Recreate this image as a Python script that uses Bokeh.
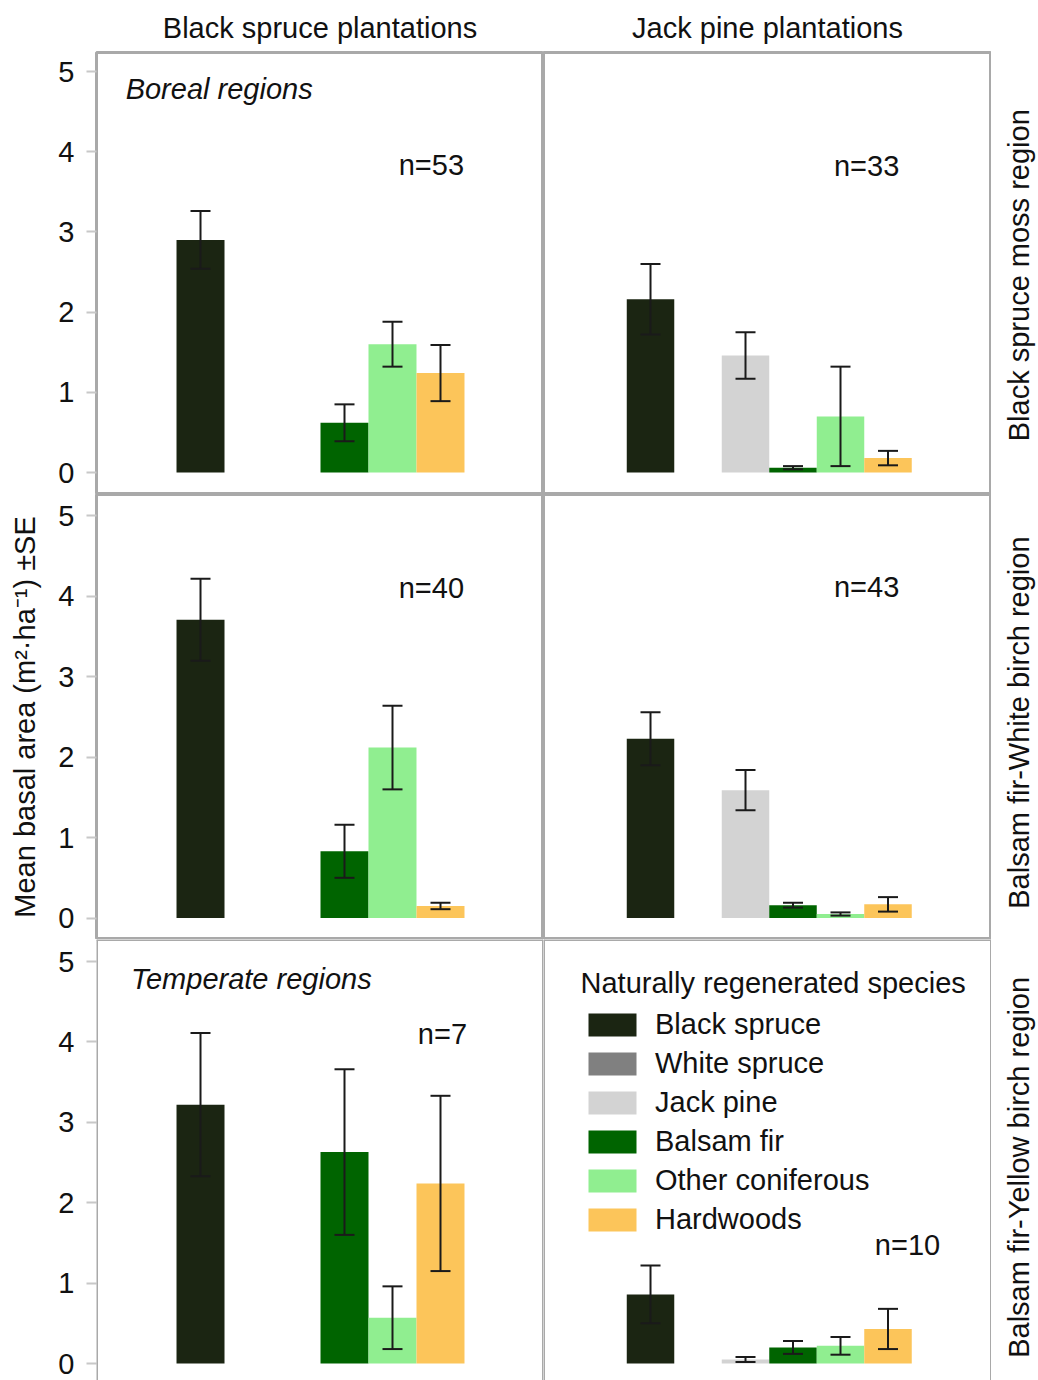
from bokeh.plotting import figure
from bokeh.models import (ColumnDataSource, Whisker, TeeHead, Label, Legend,
                          LegendItem, Span, Range1d, FixedTicker)
from bokeh.layouts import gridplot
from bokeh.embed import file_html
from bokeh.resources import INLINE

nan = float("nan")

# ---------------- data ----------------
species = ["Black spruce", "White spruce", "Jack pine", "Balsam fir",
           "Other coniferous", "Hardwoods"]
species_colors = ["#1b2512", "#808080", "#d3d3d3", "#006400", "#90ee90", "#fcc55a"]
plantation_titles = ["Black spruce plantations", "Jack pine plantations"]
region_labels = ["Black spruce moss region", "Balsam fir-White birch region",
                 "Balsam fir-Yellow birch region"]
region_group_labels = ["Boreal regions", None, "Temperate regions"]

# mean basal area (m2/ha) and SE; nan = species absent
moss_bs_mean = [2.90, nan, nan, 0.62, 1.60, 1.24]
moss_bs_se = [0.36, nan, nan, 0.23, 0.28, 0.35]
moss_jp_mean = [2.16, nan, 1.46, 0.06, 0.70, 0.18]
moss_jp_se = [0.44, nan, 0.29, 0.02, 0.62, 0.09]
white_bs_mean = [3.71, nan, nan, 0.83, 2.12, 0.15]
white_bs_se = [0.51, nan, nan, 0.33, 0.52, 0.04]
white_jp_mean = [2.23, nan, 1.59, 0.16, 0.05, 0.17]
white_jp_se = [0.33, nan, 0.25, 0.03, 0.02, 0.09]
yellow_bs_mean = [3.22, nan, nan, 2.63, 0.57, 2.24]
yellow_bs_se = [0.89, nan, nan, 1.03, 0.39, 1.09]
yellow_jp_mean = [0.86, nan, 0.05, 0.20, 0.22, 0.43]
yellow_jp_se = [0.36, nan, 0.03, 0.08, 0.11, 0.25]

sample_sizes = [[53, 33], [40, 43], [7, 10]]
y_ticks = [0, 1, 2, 3, 4, 5]
y_title = "Mean basal area (m\u00b2\u00b7ha\u207b\u00b9) \u00b1SE"
legend_title = "Naturally regenerated species"

means = [[moss_bs_mean, moss_jp_mean], [white_bs_mean, white_jp_mean],
         [yellow_bs_mean, yellow_jp_mean]]
ses = [[moss_bs_se, moss_jp_se], [white_bs_se, white_jp_se],
       [yellow_bs_se, yellow_jp_se]]

# ---------------- layout / style ----------------
FONT = "Liberation Sans"
FS = "29px"
TXT = "#111111"
FRAME = "#a9a9a9"

row_heights = [494, 445, 441]
row_border_top = [52, 0, 0]
y_ranges = [(-0.274, 5.237), (-0.267, 5.267), (-0.211, 5.274)]
col_widths = [543, 448, 46]
col_border_left = [96, 0, 0]
x_ranges = [(-2.167, 7.146), (-2.253, 7.179), (0.0, 1.0)]

n_label_pos = [[(4.81, 3.83), (4.55, 3.82)], [(4.81, 4.11), (4.55, 4.12)],
               [(5.04, 4.10), (5.41, 1.47)]]
group_label_pos = [(-1.56, 4.78), None, (-1.45, 4.78)]
region_label_pos = [(0.587, 2.46), (0.587, 2.43), (0.587, 2.44)]
legend_title_pos = (-1.474, 4.73)


def base_fig(r, c):
    p = figure(width=col_widths[c], height=row_heights[r],
               x_range=Range1d(*x_ranges[c]), y_range=Range1d(*y_ranges[r]),
               output_backend="svg", toolbar_location=None,
               min_border_left=col_border_left[c], min_border_right=0,
               min_border_top=row_border_top[r], min_border_bottom=0,
               background_fill_color="white", border_fill_color="white")
    p.xgrid.visible = False
    p.ygrid.visible = False
    p.xaxis.visible = False
    return p


grid = []
for r in range(3):
    row_figs = []
    for c in range(2):
        p = base_fig(r, c)
        if c == 0:
            ax = p.yaxis[0]
            ax.ticker = FixedTicker(ticks=y_ticks)
            ax.axis_line_color = None
            ax.major_tick_out = 10
            ax.major_tick_in = 0
            ax.minor_tick_out = 0
            ax.minor_tick_in = 0
            ax.major_tick_line_color = "#c8c8c8"
            ax.major_tick_line_width = 2
            ax.major_label_text_font = FONT
            ax.major_label_text_font_size = FS
            ax.major_label_text_color = TXT
            ax.major_label_standoff = 12
            if r == 1:
                ax.axis_label = y_title
                ax.axis_label_text_font = FONT
                ax.axis_label_text_font_size = FS
                ax.axis_label_text_font_style = "normal"
                ax.axis_label_text_color = TXT
                ax.axis_label_standoff = 14
        else:
            p.yaxis.visible = False

        if r == 0:
            p.title.text = plantation_titles[c]
            p.title.align = "center"
            p.title.text_font = FONT
            p.title.text_font_size = FS
            p.title.text_font_style = "normal"
            p.title.text_color = TXT
            p.title.standoff = 17

        if r < 2:
            p.outline_line_color = FRAME
            p.outline_line_width = 3
        else:
            p.outline_line_color = None
            for loc, dim in [(y_ranges[r][1], "width"), (x_ranges[c][0], "height"),
                             (x_ranges[c][1], "height")]:
                p.add_layout(Span(location=loc, dimension=dim, line_color=FRAME,
                                  line_width=3))

        m = means[r][c]
        s = ses[r][c]
        src = ColumnDataSource(dict(x=list(range(len(species))), top=m,
                                    color=species_colors, name=species))
        bars = p.vbar(x="x", top="top", bottom=0, width=1.0, source=src,
                      fill_color="color", line_color=None)

        xs = [i for i in range(len(species)) if m[i] == m[i]]
        wsrc = ColumnDataSource(dict(x=xs,
                                     upper=[m[i] + s[i] for i in xs],
                                     lower=[m[i] - s[i] for i in xs]))
        w = Whisker(base="x", upper="upper", lower="lower", source=wsrc,
                    line_color="#1a1a1a", line_width=2, level="overlay",
                    upper_head=TeeHead(size=20, line_width=2, line_color="#1a1a1a"),
                    lower_head=TeeHead(size=20, line_width=2, line_color="#1a1a1a"))
        p.add_layout(w)

        nx, ny = n_label_pos[r][c]
        p.add_layout(Label(x=nx, y=ny, text="n=%d" % sample_sizes[r][c],
                           text_font=FONT, text_font_size=FS, text_color=TXT,
                           text_align="center", text_baseline="middle"))

        if c == 0 and region_group_labels[r]:
            gx, gy = group_label_pos[r]
            p.add_layout(Label(x=gx, y=gy, text=region_group_labels[r],
                               text_font=FONT, text_font_size=FS, text_color=TXT,
                               text_font_style="italic",
                               text_align="left", text_baseline="middle"))
        if r == 2 and c == 1:
            p.add_layout(Label(x=legend_title_pos[0], y=legend_title_pos[1],
                               text=legend_title,
                               text_font=FONT, text_font_size=FS, text_color=TXT,
                               text_align="left", text_baseline="middle"))
            items = [LegendItem(label=species[i], renderers=[bars], index=i)
                     for i in range(len(species))]
            leg = Legend(items=items, location=(39, 144), glyph_width=60,
                         glyph_height=29, label_standoff=13, spacing=6,
                         padding=0, margin=0, border_line_color=None,
                         background_fill_alpha=0, label_text_font=FONT,
                         label_text_font_size=FS, label_text_color=TXT)
            p.add_layout(leg)
        row_figs.append(p)

    # narrow strip on the right carrying the region label
    q = base_fig(r, 2)
    q.yaxis.visible = False
    q.outline_line_color = None
    rx, ry = region_label_pos[r]
    q.add_layout(Label(x=rx, y=ry, text=region_labels[r], angle=90,
                       angle_units="deg",
                       text_font=FONT, text_font_size=FS, text_color=TXT,
                       text_align="center", text_baseline="middle"))
    row_figs.append(q)
    grid.append(row_figs)

layout = gridplot(grid, toolbar_location=None)

open("out.html", "w").write(file_html(layout, INLINE))
